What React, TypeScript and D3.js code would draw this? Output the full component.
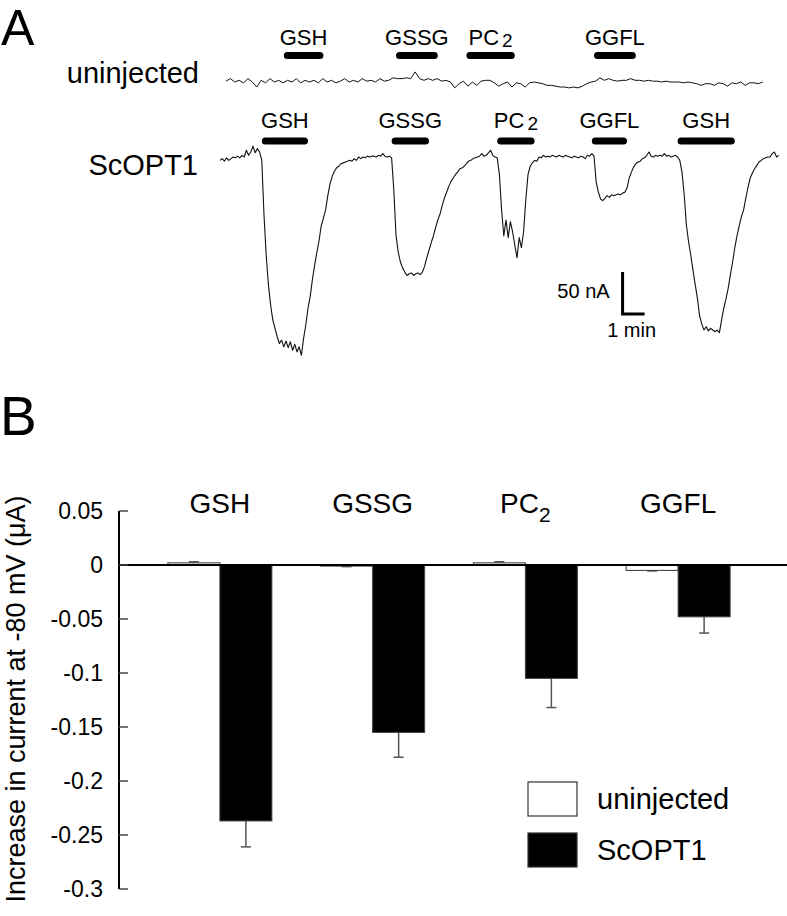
import * as d3 from 'd3'

// ---- Panel B: bar chart data ----
const CATEGORIES = ['GSH', 'GSSG', 'PC2', 'GGFL']
const SERIES = ['uninjected', 'ScOPT1']
const UNINJECTED_MEAN = [0.002, -0.001, 0.002, -0.005]
const UNINJECTED_SEM = [0.001, 0.0005, 0.001, 0.0005]
const SCOPT1_MEAN = [-0.237, -0.155, -0.105, -0.048]
const SCOPT1_SEM = [0.024, 0.023, 0.027, 0.015]
const Y_TICKS = [0.05, 0, -0.05, -0.1, -0.15, -0.2, -0.25, -0.3]

// ---- Panel A: current traces (nA), sampled at fixed intervals (min) ----
const SCOPT1_SAMPLE_MIN = 0.1
const SCOPT1_TRACE = [
  -4, -2, -5, -1, -4, -2, 0, -1, 1, -1,
  2, 0, 8, 2, 6, 13, 5, 10, 6, -4,
  -69, -117, -152, -176, -194, -204, -214, -222, -218, -226,
  -219, -227, -220, -230, -223, -232, -226, -236, -216, -200,
  -180, -166, -146, -129, -114, -100, -82, -73, -63, -46,
  -32, -23, -17, -13, -11, -8, -7, -6, -5, -4,
  -5, -2, -4, 0, -2, 0, -1, 1, 0, 1,
  1, 0, 2, 1, 4, 1, 0, 1, -1, -39,
  -93, -113, -125, -132, -137, -141, -139, -138, -141, -139,
  -138, -140, -137, -130, -120, -111, -102, -94, -84, -75,
  -68, -58, -49, -42, -35, -29, -25, -21, -18, -14,
  -13, -11, -8, -5, -4, -2, -1, 0, 1, 4,
  1, 2, 5, 8, 2, 0, -1, -21, -63, -94,
  -75, -96, -77, -89, -105, -120, -96, -108, -89, -51,
  -21, -11, -7, -4, -5, 0, -1, 2, 0, 1,
  0, 2, 1, 0, 2, 1, 0, 2, 1, 0,
  -1, 1, 0, -1, 1, 0, -2, 2, 1, 4,
  1, -30, -42, -50, -52, -49, -46, -48, -45, -46,
  -45, -44, -45, -43, -42, -37, -25, -18, -12, -8,
  -6, -5, -2, -1, 2, 6, 1, 0, 2, 1,
  2, 1, 4, 1, 2, 0, 1, 2, 0, -4,
  -18, -45, -81, -101, -117, -135, -152, -168, -189, -199,
  -206, -202, -207, -204, -206, -208, -206, -209, -194, -180,
  -169, -156, -140, -125, -108, -94, -82, -71, -63, -49,
  -36, -25, -19, -14, -10, -6, -4, -2, -1, 0,
  0, 4, 6, 0, 2,
]

const UNINJ_START_MIN = 0.27
const UNINJ_SAMPLE_MIN = 0.2
const UNINJ_TRACE = [
  1, 4, 0, 2, -1, 4, 0, -6, 2, -1,
  4, 0, 2, -1, 2, 0, 4, -1, 2, 0,
  2, -1, 4, 0, 2, -1, 1, 4, 0, 2,
  0, 4, 1, 2, 0, 4, 1, 2, 5, 4,
  4, 5, 4, 12, 4, 2, 4, 2, 4, 1,
  2, 0, -7, -2, 1, -5, 0, -4, 1, 2,
  2, -1, -5, -2, 0, -6, -1, -2, -6, -1,
  0, -1, -2, -4, -4, -5, -6, -6, -7, -6,
  -7, -5, -2, 0, 1, 5, 2, 4, 2, 1,
  2, 2, 4, 2, 2, 1, 2, 1, 1, 0,
  1, 0, 0, 0, -1, 0, -1, -2, -4, -2,
  -2, -4, -1, -2, -5, -1, -2, 0, -4, -1,
  -1, -2, 0,
]

// drug applications (min)
const UNINJ_APP_DRUGS = ['GSH', 'GSSG', 'PC2', 'GGFL']
const UNINJ_APP_START = [2.9, 8.0, 11.2, 17.0]
const UNINJ_APP_END = [4.7, 9.9, 13.4, 18.9]
const SCOPT1_APP_DRUGS = ['GSH', 'GSSG', 'PC2', 'GGFL', 'GSH']
const SCOPT1_APP_START = [1.9, 7.8, 12.6, 16.9, 20.8]
const SCOPT1_APP_END = [4.0, 9.5, 14.3, 18.5, 23.4]

const FONT = '"Liberation Sans", Arial, Helvetica, sans-serif'

function DrugLabel({ name, x, y, size, sub }: { name: string; x: number; y: number; size: number; sub: { dx: number; dy: number; size: number } }) {
  if (name === 'PC2') {
    return (
      <text x={x} y={y} textAnchor="middle" fontSize={size}>
        PC
        <tspan dx={sub.dx} dy={sub.dy} fontSize={sub.size}>2</tspan>
      </text>
    )
  }
  return (
    <text x={x} y={y} textAnchor="middle" fontSize={size}>
      {name}
    </text>
  )
}

export default function App() {
  const width = 787
  const height = 916

  // ---------- Panel A ----------
  const tScale = d3.scaleLinear().domain([0, 1]).range([220, 242]) // 1 min = 22 px
  const yScopt = d3.scaleLinear().domain([0, -50]).range([157, 199]) // 50 nA = 42 px
  const yUninj = d3.scaleLinear().domain([0, -50]).range([82, 124])

  const scoptPath = d3
    .line<number>()
    .x((_, i) => tScale(i * SCOPT1_SAMPLE_MIN))
    .y((d) => yScopt(d))(SCOPT1_TRACE)
  const uninjPath = d3
    .line<number>()
    .x((_, i) => tScale(UNINJ_START_MIN + i * UNINJ_SAMPLE_MIN))
    .y((d) => yUninj(d))(UNINJ_TRACE)

  const barH = 7
  const scaleT = 18.3
  const scaleI = -187
  const sbX = tScale(scaleT)
  const sbBottom = yScopt(scaleI)
  const sbTop = yScopt(scaleI + 50)
  const sbRight = tScale(scaleT + 1)

  // ---------- Panel B ----------
  const yB = d3.scaleLinear().domain([-0.3, 0.05]).range([889, 511])
  const x0 = d3.scaleBand<string>().domain(CATEGORIES).range([143.5, 754.5]).padding(0)
  const bw = x0.bandwidth()
  const x1 = d3.scaleBand<string>().domain(SERIES).range([bw / 2 - 52, bw / 2 + 52]).padding(0)
  const axisX = 119
  const fmt = (v: number) => String(+v.toFixed(2))

  const bars = CATEGORIES.flatMap((c, i) => [
    { cat: c, s: 'uninjected', v: UNINJECTED_MEAN[i], e: UNINJECTED_SEM[i] },
    { cat: c, s: 'ScOPT1', v: SCOPT1_MEAN[i], e: SCOPT1_SEM[i] },
  ])

  return (
    <svg
      width={width}
      height={height}
      style={{ position: 'absolute', left: 0, top: 0, background: '#fff' }}
      fontFamily={FONT}
    >
      {/* Panel A */}
      <text x={1} y={45} fontSize={50}>A</text>
      <text x={199} y={83} textAnchor="end" fontSize={29}>uninjected</text>
      <text x={198} y={175} textAnchor="end" fontSize={29}>ScOPT1</text>

      {UNINJ_APP_DRUGS.map((d, i) => {
        const xs = tScale(UNINJ_APP_START[i])
        const xe = tScale(UNINJ_APP_END[i])
        return (
          <g key={'ua' + i}>
            <rect x={xs} y={55.5 - barH / 2} width={xe - xs} height={barH} rx={barH / 2} fill="#000" />
            <DrugLabel name={d} x={(xs + xe) / 2} y={45} size={22} sub={{ dx: 3, dy: 2, size: 19 }} />
          </g>
        )
      })}
      {SCOPT1_APP_DRUGS.map((d, i) => {
        const xs = tScale(SCOPT1_APP_START[i])
        const xe = tScale(SCOPT1_APP_END[i])
        return (
          <g key={'sa' + i}>
            <rect x={xs} y={141 - barH / 2} width={xe - xs} height={barH} rx={barH / 2} fill="#000" />
            <DrugLabel name={d} x={(xs + xe) / 2} y={128} size={22} sub={{ dx: 3, dy: 2, size: 19 }} />
          </g>
        )
      })}

      <path d={uninjPath ?? ''} fill="none" stroke="#111" strokeWidth={1} strokeLinejoin="round" />
      <path d={scoptPath ?? ''} fill="none" stroke="#111" strokeWidth={1.1} strokeLinejoin="round" />

      {/* scale bar */}
      <path
        d={`M${sbX},${sbTop}V${sbBottom}H${sbRight}`}
        fill="none"
        stroke="#000"
        strokeWidth={3}
      />
      <text x={sbX - 13} y={298} textAnchor="end" fontSize={20}>50 nA</text>
      <text x={sbX + 9} y={337} textAnchor="middle" fontSize={20}>1 min</text>

      {/* Panel B */}
      <text x={0} y={435} fontSize={55}>B</text>

      <text
        transform={`translate(25, 699) rotate(-90)`}
        textAnchor="middle"
        fontSize={27}
      >
        Increase in current at -80 mV (μA)
      </text>

      {CATEGORIES.map((c) => (
        <DrugLabel
          key={'cl' + c}
          name={c}
          x={(x0(c) ?? 0) + bw / 2}
          y={513}
          size={28}
          sub={{ dx: 0, dy: 9, size: 21 }}
        />
      ))}

      {bars.map((b) => {
        const bx = (x0(b.cat) ?? 0) + (x1(b.s) ?? 0)
        const y0 = yB(0)
        const yv = yB(b.v)
        const top = Math.min(y0, yv)
        const h = Math.abs(yv - y0)
        const cx = bx + x1.bandwidth() / 2
        const ye = yB(b.v < 0 ? b.v - b.e : b.v + b.e)
        const black = b.s === 'ScOPT1'
        return (
          <g key={b.cat + b.s}>
            <line x1={cx} x2={cx} y1={yv} y2={ye} stroke="#555" strokeWidth={1.5} />
            <line x1={cx - 5} x2={cx + 5} y1={ye} y2={ye} stroke="#555" strokeWidth={1.5} />
            <rect
              x={bx}
              y={top}
              width={x1.bandwidth()}
              height={Math.max(h, 1)}
              fill={black ? '#000' : '#fff'}
              stroke={black ? '#444' : '#333'}
              strokeWidth={1}
            />
          </g>
        )
      })}

      {/* zero line */}
      <line x1={axisX} x2={width} y1={yB(0)} y2={yB(0)} stroke="#000" strokeWidth={2} />

      {/* y axis */}
      <line x1={axisX} x2={axisX} y1={yB(0.05)} y2={yB(-0.3)} stroke="#000" strokeWidth={2} />
      {Y_TICKS.map((t) => (
        <g key={'t' + t}>
          <line x1={axisX} x2={axisX + 9} y1={yB(t)} y2={yB(t)} stroke="#444" strokeWidth={1.5} />
          <text x={103} y={yB(t)} dy="0.36em" textAnchor="end" fontSize={23}>
            {fmt(t)}
          </text>
        </g>
      ))}

      {/* legend */}
      {SERIES.map((s, i) => (
        <g key={'lg' + s} transform={`translate(528, ${782 + i * 51})`}>
          <rect
            x={0}
            y={0}
            width={49}
            height={34}
            fill={s === 'ScOPT1' ? '#000' : '#fff'}
            stroke="#333"
            strokeWidth={1.2}
          />
          <text x={69} y={17} dy="0.36em" fontSize={29}>{s}</text>
        </g>
      ))}
    </svg>
  )
}
